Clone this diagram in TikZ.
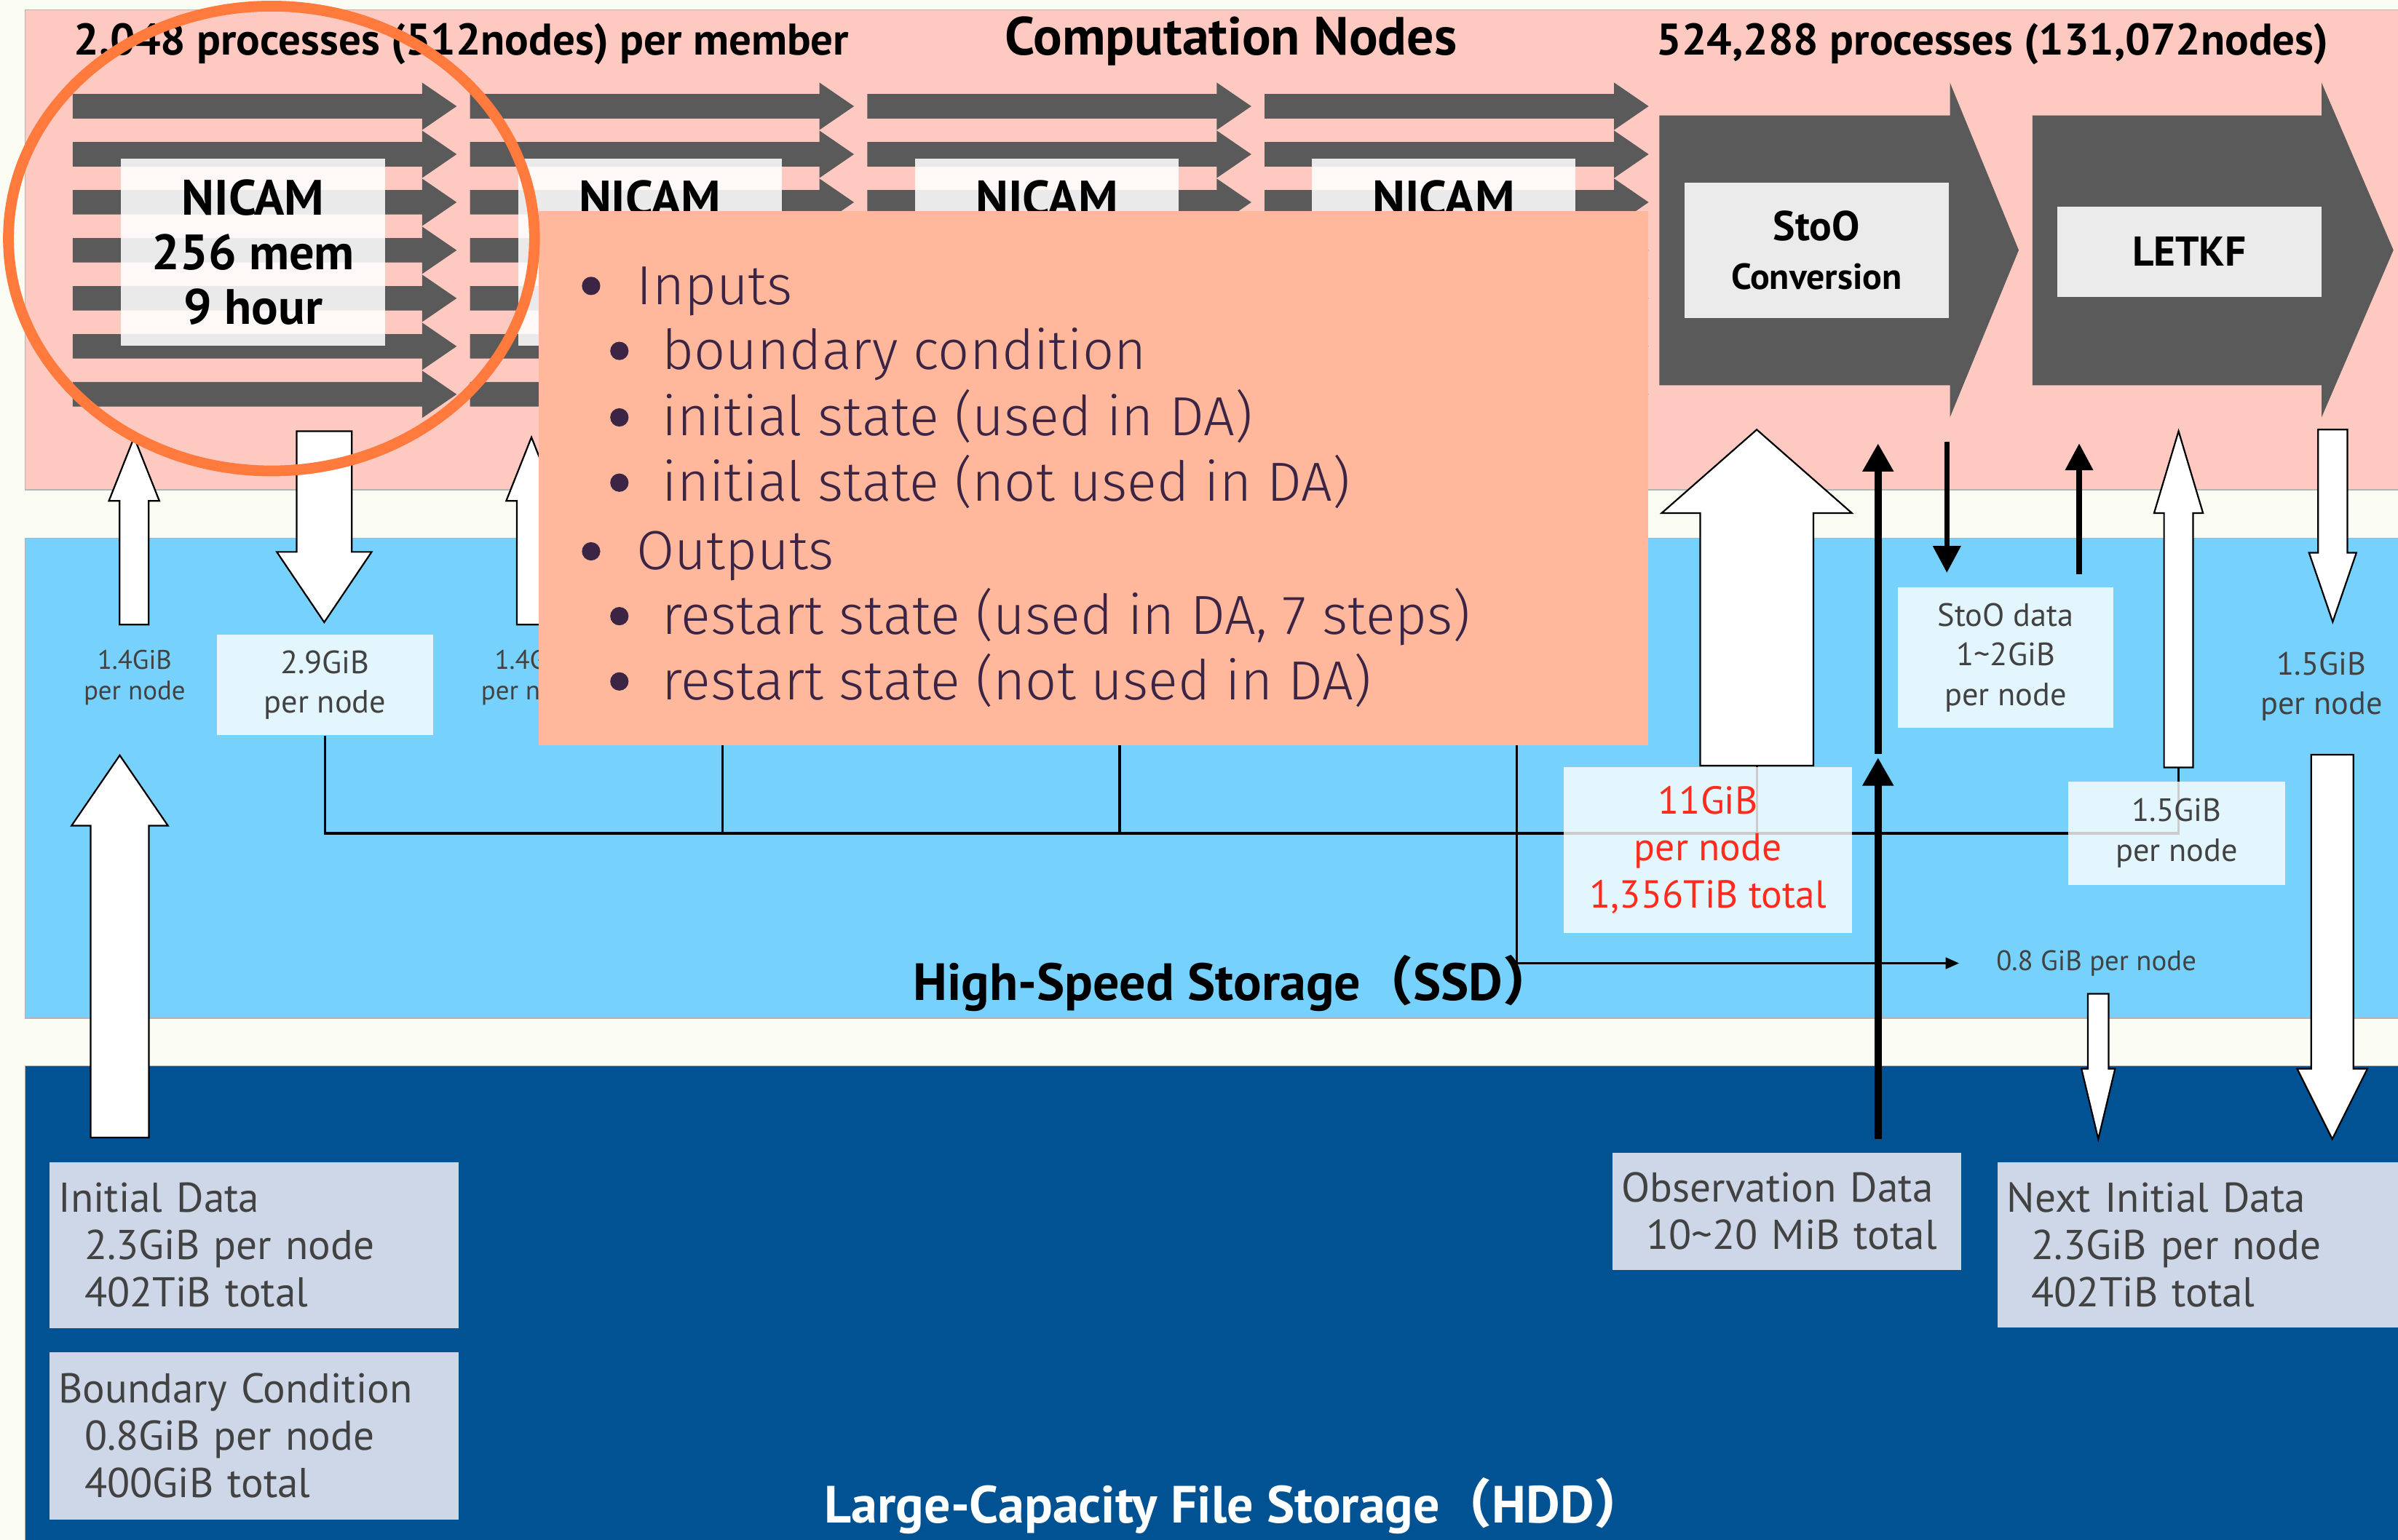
\documentclass[tikz,border=0pt]{standalone}
\usepackage{fontspec}
\setmainfont{PT Sans}
\newfontfamily\thinfont{Fira Sans Light}
\newfontfamily\cjk{Noto Sans CJK JP}
\usetikzlibrary{arrows.meta,positioning,calc}
\definecolor{paper}{HTML}{FAFBF2}
\definecolor{cCmpF}{HTML}{FEC9C1}
\definecolor{cSsdF}{HTML}{76D2FD}
\definecolor{cHddF}{HTML}{005293}
\definecolor{cRule}{HTML}{B4B4B4}
\definecolor{cProc}{HTML}{5A5A5A}
\definecolor{cMemo}{HTML}{FFB89B}
\definecolor{cMemoT}{HTML}{3B2444}
\definecolor{cFile}{HTML}{CDD7E8}
\definecolor{cTxt}{HTML}{424242}
\definecolor{cHot}{HTML}{FF2B1C}
\definecolor{cRing}{HTML}{FF7A3C}
\newcommand{\fsz}[2]{\fontsize{#1}{#2}\selectfont}
\newcommand{\vblock}[6]{\filldraw[blk] (#1-#4,#2) -- (#1-#4,#6) -- (#1-#5,#6) -- (#1,#3)
  -- (#1+#5,#6) -- (#1+#4,#6) -- (#1+#4,#2) -- cycle;}

\begin{document}
\begin{tikzpicture}[x=0.2mm,y=-0.2mm,
  band/.style={line width=0.4pt,draw=cRule},
  blk/.style={fill=white,draw=black,line width=0.6pt},
  title/.style={font=\bfseries\fsz{16.5}{19},inner sep=0pt},
  procbox/.style={fill=white,fill opacity=0.88,text opacity=1,inner sep=0pt,align=center,
    minimum width=34.5mm,minimum height=24.4mm,font=\bfseries\fsz{18.5}{20.2}},
  stage/.style={fill=black!8,inner sep=0pt,align=center},
  vol/.style={fill=white,fill opacity=0.8,text opacity=1,inner sep=0pt,align=center,
    text=cTxt,font=\fsz{12}{14.8}},
  tag/.style={inner sep=0pt,align=center,text=cTxt},
  file/.style={fill=cFile,inner xsep=1.2mm,inner ysep=0pt,align=left,text=cTxt,
    font=\fsz{15.5}{17.6},anchor=north west},
  wire/.style={line width=0.85pt},
  flow/.style={-{Triangle[length=10.5pt,width=11pt]},line width=2.6pt},
  thinflow/.style={-{Triangle[length=10pt,width=10pt]},line width=2pt},
  memotxt/.style={text=cMemoT,font=\thinfont\fsz{20.5}{24},inner sep=0pt,anchor=base west}]

  \fill[paper] (0,0) rectangle (1568,1007);
  \useasboundingbox (0,0) rectangle (1568,1007);
  \filldraw[band,fill=cCmpF] (16.4,6.4) rectangle (1572,320.4);
  \filldraw[band,fill=cSsdF] (16.4,352) rectangle (1572,666);
  \filldraw[band,fill=cHddF] (16.4,697) rectangle (1572,1012);

  \node[title,anchor=west] (permem) at (48,29) {2,048 processes (512nodes) per member};
  \node[title,font=\bfseries\fsz{20}{22}] (cmp) at (805,27) {Computation Nodes};
  \node[title,anchor=west] (allmem) at (1083,29) {524,288 processes (131,072nodes)};

  \foreach \k in {0,...,3}{
    \pgfmathsetmacro{\dx}{259.8*\k}
    \foreach \r in {0,...,6}{
      \pgfmathsetmacro{\yy}{69.5+31.4*\r}
      \fill[cProc] (47.5+\dx,\yy-8) -- (276+\dx,\yy-8) -- (276+\dx,\yy-15.5) -- (298.6+\dx,\yy)
        -- (276+\dx,\yy+15.5) -- (276+\dx,\yy+8) -- (47.5+\dx,\yy+8) -- cycle;}
  }
  \node[procbox] (nicam1) at (165.5,165) {NICAM\\256 mem\\9 hour};
  \foreach \k in {2,3,4}
    \node[procbox] (nicam\k) at (165.5+259.5*\k-259.5,165) {NICAM\\~\\~};

  \fill[cProc] (1085,75.5) -- (1275,75.5) -- (1275,54) -- (1320,163.6) -- (1275,273)
    -- (1275,252) -- (1085,252) -- cycle;
  \fill[cProc] (1329,75.5) -- (1518,75.5) -- (1518,54) -- (1565,163.6) -- (1518,273)
    -- (1518,252) -- (1329,252) -- cycle;
  \node[stage,minimum width=34.5mm,minimum height=17.7mm,font=\bfseries\fsz{15.5}{18.2}]
    (stoo) at (1187.8,163.8) {StoO\\{\fsz{13.5}{18.2}\selectfont Conversion}};
  \node[stage,minimum width=34.6mm,minimum height=11.8mm,font=\bfseries\fsz{15.5}{18}]
    (letkf) at (1431.5,164.5) {LETKF};

  \foreach \k in {0,...,3}{
    \pgfmathsetmacro{\dx}{259.8*\k}
    \vblock{87.7+\dx}{408.5}{286}{9.5}{16.5}{327.6}
    \vblock{212+\dx}{282}{407}{18}{31}{361}
    \node[vol,minimum width=28.2mm,minimum height=13.1mm] (wr\k) at (212.5+\dx,448) {};
  }
  \node[tag,font=\fsz{10}{11.4}] (rd0) at (88,443) {1.4GiB\\per node};
  \node[tag,font=\fsz{10}{11.4}] (rd1) at (347.8,443) {1.4GiB\\per node};
  \node[tag,font=\fsz{12}{14.8}] (wr0txt) at (wr0) {2.9GiB\\per node};

  \coordinate (busY) at (0,545);
  \coordinate (ssdIn) at (1148.7,500.8);
  \coordinate (letIn) at (1424.5,502);
  \draw[wire] (wr0.south) |- (letIn |- busY) -- (letIn);
  \foreach \k in {1,2,3} \draw[wire] (wr\k.south) -- (wr\k.south |- busY);
  \draw[wire] (ssdIn) -- (ssdIn |- busY);
  \node[tag,font=\fsz{10.5}{12},anchor=west] (dump) at (1305,630) {0.8 GiB per node};
  \draw[wire,-{Triangle[length=5pt,width=4.2pt]}] (wr3.south) |- ([xshift=-4.8mm]dump.west);

  \vblock{1148.7}{500.8}{281}{37}{62.2}{335.6}
  \node[vol,minimum width=37.7mm,minimum height=21.7mm,text=cHot,font=\fsz{14.5}{17.5}]
    (sum) at (1116.8,555.9) {11GiB\\per node\\1,356TiB total};
  \vblock{1424.5}{502}{282}{9.5}{16}{335.6}
  \node[vol,minimum width=28.3mm,minimum height=13.6mm] (anl) at (1423.3,545)
    {1.5GiB\\per node};
  \node[vol,minimum width=28.2mm,minimum height=18.4mm] (sobs) at (1311.5,430)
    {StoO data\\1\textasciitilde2GiB\\per node};

  \coordinate (soA) at (1273,289);
  \coordinate (soB) at (1359.5,290);
  \draw[thinflow] (soA) -- ([yshift=1.8mm]sobs.north -| soA);
  \draw[thinflow] ([yshift=1.6mm]sobs.north -| soB) -- (soB);

  \vblock{1525.3}{281}{406.7}{9.6}{15.5}{361.5}
  \node[tag,font=\fsz{12}{14.8}] (ana) at (1518,449) {1.5GiB\\per node};
  \vblock{1525}{493.6}{745}{13.8}{23}{699}
  \vblock{1372}{650}{745}{6.8}{11}{699}
  \vblock{78.3}{744}{494}{19}{31.5}{540}

  \node[title,font=\bfseries\fsz{19.5}{22}] (ssdlbl) at (807,643)
    {High-Speed Storage{\cjk （}SSD{\cjk ）}};
  \node[title,text=white,font=\bfseries\fsz{19.5}{22}] (hddlbl) at (808,985)
    {Large-Capacity File Storage{\cjk （}HDD{\cjk ）}};

  \node[file,minimum width=53.5mm,minimum height=21.7mm,text width=51.1mm] (init)
    at (32,759.7) {Initial Data\\\hspace*{3.4mm}2.3GiB per node\\\hspace*{3.4mm}402TiB total};
  \node[file,minimum width=53.5mm,minimum height=21.9mm,text width=51.1mm] (bnd)
    at (32,884) {Boundary Condition\\\hspace*{3.4mm}0.8GiB per node\\\hspace*{3.4mm}400GiB total};
  \node[file,minimum width=45.6mm,minimum height=15.3mm,text width=43.2mm] (obs)
    at (1054,753.6) {Observation Data\\\hspace*{3.2mm}10\textasciitilde20 MiB total};
  \node[file,minimum width=52.4mm,minimum height=21.6mm,text width=50mm] (nxt)
    at (1306,760) {Next Initial Data\\\hspace*{3.2mm}2.3GiB per node\\\hspace*{3.2mm}402TiB total};

  \coordinate (obsTop) at (1228,290);
  \coordinate (obsMid) at (1228,495.5);
  \draw[flow] ([yshift=1.7mm]obs.north -| obsTop) -- (obsMid);
  \draw[flow] ([yshift=0.5mm]obsMid) -- (obsTop);

  \node[fill=cMemo,inner sep=0pt,minimum width=145.1mm,minimum height=69.9mm] (memo)
    at (714.8,312.8) {};
  \foreach \lvl/\yy/\txt [count=\i] in {0/187/Inputs, 1/229.5/boundary condition,
      1/273/{initial state (used in DA)}, 1/315.7/{initial state (not used in DA)},
      0/360.6/Outputs, 1/403/{restart state (used in DA, 7 steps)},
      1/445.7/{restart state (not used in DA)}}{
    \fill[cMemoT] (386.5+18.5*\lvl,\yy) circle (6);
    \node[memotxt] (memo\i) at (416+16.7*\lvl,\yy+12) {\txt};
  }

  \draw[cRing,line width=4pt] (177.5,156) ellipse [x radius=172,y radius=152];
\end{tikzpicture}
\end{document}
